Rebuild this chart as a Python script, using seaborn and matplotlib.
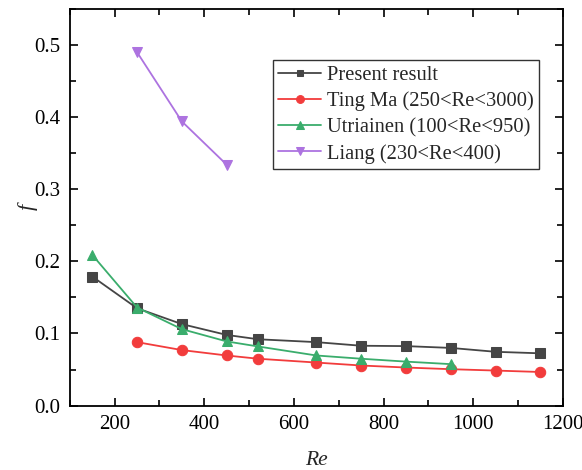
import matplotlib
matplotlib.use("Agg")
import matplotlib.pyplot as plt
import seaborn as sns
import pandas as pd
from matplotlib.ticker import MultipleLocator

present_re = [150, 250, 350, 450, 520, 650, 750, 850, 950, 1050, 1150]
present_f = [0.179, 0.135, 0.113, 0.098, 0.092, 0.088, 0.083, 0.0825, 0.080, 0.0746, 0.0725]

tingma_re = [250, 350, 450, 520, 650, 750, 850, 950, 1050, 1150]
tingma_f = [0.088, 0.077, 0.0695, 0.065, 0.0597, 0.0556, 0.0528, 0.0505, 0.0486, 0.0466]

utri_re = [150, 250, 350, 450, 520, 650, 750, 850, 950]
utri_f = [0.209, 0.136, 0.106, 0.089, 0.082, 0.0695, 0.065, 0.061, 0.0575]

liang_re = [250, 350, 450]
liang_f = [0.490, 0.394, 0.334]

labels = ["Present result", "Ting Ma (250<Re<3000)", "Utriainen (100<Re<950)", "Liang (230<Re<400)"]
colors = ["#454545", "#f23c3c", "#3aad6c", "#ad73e0"]
markers = ["s", "o", "^", "v"]

sns.set_style("ticks")
plt.rcParams['font.family'] = ['Liberation Serif', 'DejaVu Serif']

fig = plt.figure(figsize=(5.82, 4.70), dpi=100)
ax = fig.add_axes([0.120, 0.137, 0.847, 0.844])

series = [(present_re, present_f), (tingma_re, tingma_f), (utri_re, utri_f), (liang_re, liang_f)]
for (xs, ys), lab, c, m in zip(series, labels, colors, markers):
    df = pd.DataFrame({"Re": xs, "f": ys})
    sns.lineplot(data=df, x="Re", y="f", ax=ax, color=c, marker=m, markersize=7.5 if m != "s" else 6.5,
                 markeredgecolor=c, linewidth=1.3, label=lab)

ax.set_xlim(100, 1200)
ax.set_ylim(0, 0.55)
ax.xaxis.set_major_locator(MultipleLocator(200))
ax.xaxis.set_minor_locator(MultipleLocator(100))
ax.yaxis.set_major_locator(MultipleLocator(0.1))
ax.yaxis.set_minor_locator(MultipleLocator(0.05))
ax.yaxis.set_major_formatter(matplotlib.ticker.FormatStrFormatter('%.1f'))
ax.tick_params(which='both', direction='in', top=True, right=True, width=1.2, colors='black')
ax.tick_params(which='major', length=6, labelsize=15, pad=7)
ax.tick_params(which='minor', length=4)
for s in ax.spines.values():
    s.set_linewidth(1.3)
    s.set_color('black')

ax.set_xlabel("Re", fontsize=15.5, style='italic', labelpad=12)
ax.set_ylabel("f", fontsize=16, style='italic', labelpad=-3)

leg = ax.legend(loc='upper left', bbox_to_anchor=(0.412, 0.870), fontsize=14.8, frameon=True, fancybox=False,
                edgecolor='black', handlelength=2.1, handletextpad=0.3, borderpad=0.25, labelspacing=0.32,
                markerscale=0.75, borderaxespad=0)
leg.get_frame().set_linewidth(1.0)

fig.savefig("out.png", dpi=100)
